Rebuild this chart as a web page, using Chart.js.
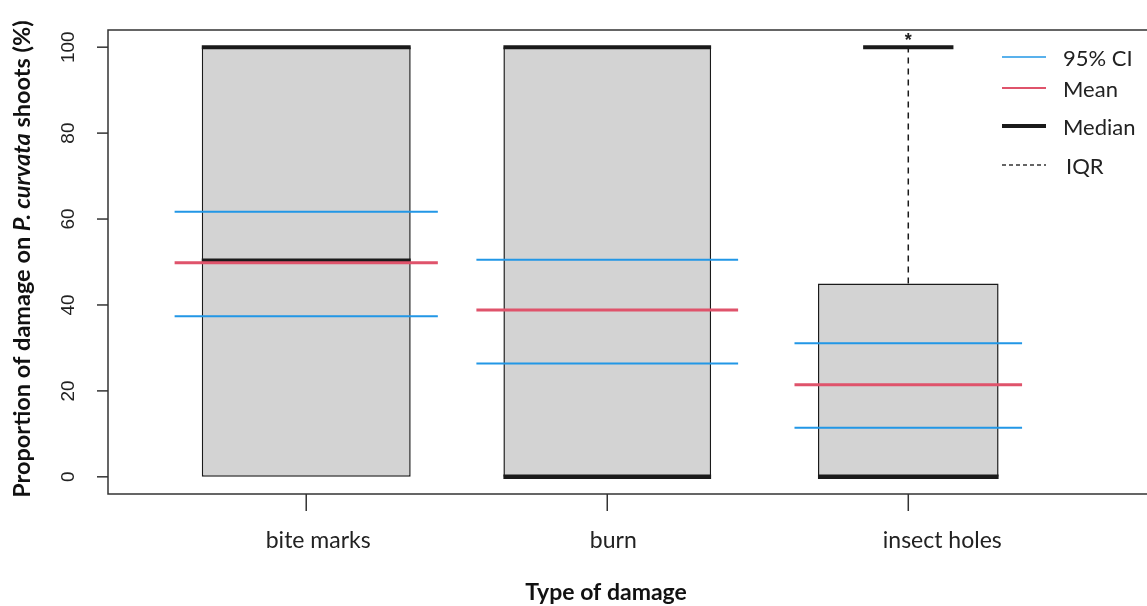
<!DOCTYPE html>
<html>
<head>
<meta charset="utf-8">
<script src="https://cdn.jsdelivr.net/npm/chart.js@4.4.1/dist/chart.umd.min.js"></script>
<style>
  html, body { margin: 0; padding: 0; background: #fff; overflow: hidden; }
  #wrap { width: 1147px; height: 606px; position: relative; }
</style>
</head>
<body>
<div id="wrap"><canvas id="chart"></canvas></div>
<script>
// damage categories and their summary stats (% of shoots)
const categories = ['bite marks', 'burn', 'insect holes'];
const q1 = [0, 0, 0];
const median = [50.3, 0, 0];
const q3 = [100, 100, 45];
const upperWhisker = [100, 100, 100];
const means = [49.8, 38.8, 21.4];
const ciLower = [37.4, 26.4, 11.4];
const ciUpper = [61.7, 50.5, 31.1];
const markers = ['', '', '*'];
const yTicks = [0, 20, 40, 60, 80, 100];
const legendLabels = ['95% CI', 'Mean', 'Median', 'IQR'];

// drawing settings
const boxWidths = [0.694, 0.69, 0.6];  // in x units
const ciSpan = 1.26;                    // mean/CI lines relative to box width
const labelShift = [12, 6, 34];         // px nudge for the category labels
const BLUE = '#2297E6', RED = '#DF536B', INK = '#1a1a1a', TXT = '#222';
const uiFont = 'Lato, "Noto Sans", sans-serif';

// horizontal segments centred on each category, split by nulls
function segments(vals, halfW) {
  const pts = [];
  vals.forEach((v, i) => {
    const c = i + 1, h = halfW(i);
    pts.push({ x: c - h, y: v }, { x: c + h, y: v }, { x: c + 0.5, y: null });
  });
  return pts;
}

const lineDefaults = { type: 'line', pointRadius: 0, spanGaps: false, tension: 0, borderCapStyle: 'butt', fill: false };

const boxSets = categories.map((c, i) => ({
  type: 'bar',
  label: c,
  data: [{ x: i + 1, y: [q1[i], q3[i]] }],
  backgroundColor: '#d3d3d3',
  borderColor: INK,
  borderWidth: 1.5,
  borderSkipped: false,
  grouped: false,
  categoryPercentage: 1,
  barPercentage: boxWidths[i],
  order: 10
}));

const whiskerPts = [];
const staplePts = [];
categories.forEach((c, i) => {
  const x = i + 1;
  if (upperWhisker[i] > q3[i]) {
    whiskerPts.push({ x: x, y: q3[i] }, { x: x, y: upperWhisker[i] }, { x: x + 0.5, y: null });
  }
  const h = upperWhisker[i] > q3[i] ? boxWidths[i] / 4 : boxWidths[i] / 2;
  staplePts.push({ x: x - h, y: upperWhisker[i] }, { x: x + h, y: upperWhisker[i] }, { x: x + 0.5, y: null });
});

const datasets = [
  ...boxSets,
  { ...lineDefaults, label: 'IQR', data: whiskerPts, borderColor: INK, borderWidth: 1.5, borderDash: [6, 5], order: 6 },
  { ...lineDefaults, label: 'staple', data: staplePts, borderColor: INK, borderWidth: 4, order: 5 },
  { ...lineDefaults, label: 'Median', data: segments(median, i => boxWidths[i] / 2), borderColor: INK, borderWidth: 4.5, order: 5 },
  { ...lineDefaults, label: 'CI low', data: segments(ciLower, i => boxWidths[i] * ciSpan / 2), borderColor: BLUE, borderWidth: 2, order: 2 },
  { ...lineDefaults, label: 'CI high', data: segments(ciUpper, i => boxWidths[i] * ciSpan / 2), borderColor: BLUE, borderWidth: 2, order: 2 },
  { ...lineDefaults, label: 'Mean', data: segments(means, i => boxWidths[i] * ciSpan / 2), borderColor: RED, borderWidth: 3, order: 1 }
];

// axes, titles and legend in base-graphics style
const decor = {
  id: 'decor',
  afterDraw(chart) {
    const { ctx, chartArea: a, scales: { x, y } } = chart;
    ctx.save();
    ctx.strokeStyle = '#333';
    ctx.lineWidth = 1.5;
    ctx.beginPath();
    ctx.moveTo(a.right + 2, a.top); ctx.lineTo(a.left, a.top);
    ctx.lineTo(a.left, a.bottom); ctx.lineTo(a.right + 2, a.bottom);
    ctx.stroke();

    // y ticks, labels rotated like las = 0
    ctx.fillStyle = TXT;
    ctx.font = '19px "Liberation Sans", Arial, sans-serif';
    ctx.textAlign = 'center';
    ctx.textBaseline = 'middle';
    yTicks.forEach(v => {
      const py = y.getPixelForValue(v);
      ctx.beginPath(); ctx.moveTo(a.left - 11, py); ctx.lineTo(a.left, py); ctx.stroke();
      ctx.save();
      ctx.translate(69, py);
      ctx.rotate(-Math.PI / 2);
      ctx.fillText(String(v), 0, 0);
      ctx.restore();
    });

    // x ticks and category labels
    ctx.font = '23px ' + uiFont;
    categories.forEach((c, i) => {
      const px = x.getPixelForValue(i + 1);
      ctx.beginPath(); ctx.moveTo(px, a.bottom); ctx.lineTo(px, a.bottom + 17); ctx.stroke();
      ctx.fillText(c, px + labelShift[i], 541);
    });

    // significance marks above the whiskers
    ctx.font = 'bold 18px "Liberation Sans", Arial, sans-serif';
    categories.forEach((c, i) => {
      if (!markers[i]) return;
      ctx.fillText(markers[i], x.getPixelForValue(i + 1), y.getPixelForValue(upperWhisker[i]) - 6);
    });

    // x title
    ctx.font = 'bold 23px ' + uiFont;
    ctx.fillStyle = '#111';
    ctx.fillText('Type of damage', 606, 593);

    // y title with italic species name
    const parts = [
      ['bold 23.5px ' + uiFont, 'Proportion of damage on '],
      ['italic bold 23.5px ' + uiFont, 'P. curvata'],
      ['bold 23.5px ' + uiFont, ' shoots (%)']
    ];
    let total = 0;
    parts.forEach(p => { ctx.font = p[0]; total += ctx.measureText(p[1]).width; });
    ctx.save();
    ctx.translate(22, (a.top + a.bottom) / 2 - 3);
    ctx.rotate(-Math.PI / 2);
    ctx.textAlign = 'left';
    let cx = -total / 2;
    parts.forEach(p => { ctx.font = p[0]; ctx.fillText(p[1], cx, 0); cx += ctx.measureText(p[1]).width; });
    ctx.restore();

    // legend
    const rows = [
      { y: 57, color: BLUE, width: 1.5, dash: [] },
      { y: 88, color: RED, width: 2, dash: [] },
      { y: 126, color: INK, width: 4, dash: [] },
      { y: 165, color: '#333', width: 1.3, dash: [4, 3] }
    ];
    ctx.font = '22px ' + uiFont;
    ctx.textAlign = 'left';
    ctx.fillStyle = TXT;
    rows.forEach((r, k) => {
      ctx.strokeStyle = r.color;
      ctx.lineWidth = r.width;
      ctx.setLineDash(r.dash);
      ctx.beginPath(); ctx.moveTo(1002, r.y); ctx.lineTo(1046, r.y); ctx.stroke();
      ctx.setLineDash([]);
      ctx.fillText(legendLabels[k], k === 3 ? 1066 : 1063, r.y + 2);
    });
    ctx.restore();
  }
};

new Chart(document.getElementById('chart'), {
  data: { datasets: datasets },
  options: {
    responsive: true,
    maintainAspectRatio: false,
    animation: false,
    layout: { padding: { left: 108, top: 30, right: 0, bottom: 112 } },
    plugins: { legend: { display: false }, tooltip: { enabled: false } },
    scales: {
      x: {
        type: 'linear', min: 0.3415, max: 3.793, display: false, offset: false,
        afterBuildTicks: s => { s.ticks = [1, 2, 3].map(v => ({ value: v })); }
      },
      y: { type: 'linear', min: -4, max: 104, display: false }
    }
  },
  plugins: [decor]
});
</script>
</body>
</html>
